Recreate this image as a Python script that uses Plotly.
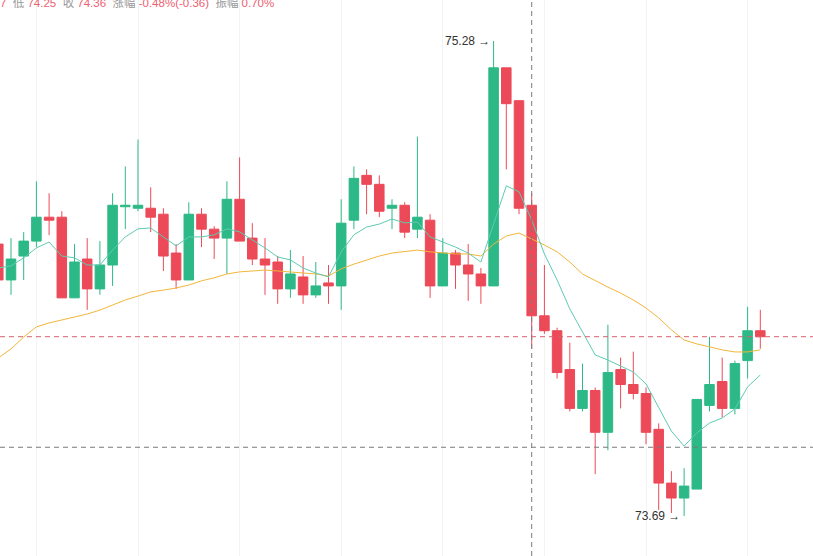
import plotly.graph_objects as go

# candle index (k = -1 is the partially visible first candle)
idx = list(range(-1, 60))

opens = [74.60, 74.48, 74.56, 74.61, 74.69, 74.69, 74.42, 74.55, 74.45, 74.53,
         74.725, 74.72, 74.72, 74.70, 74.57, 74.48, 74.70, 74.65, 74.62, 74.75,
         74.62, 74.55, 74.54, 74.45, 74.49, 74.43, 74.47, 74.46, 74.68, 74.83,
         74.80, 74.72, 74.73, 74.65, 74.68, 74.46, 74.57, 74.53, 74.50, 74.46,
         75.19, 75.08, 74.73, 74.36, 74.31, 74.18, 74.05, 74.11, 73.97, 74.18,
         74.13, 74.10, 73.98, 73.80, 73.75, 73.78, 74.06, 74.14, 74.05, 74.21,
         74.31]
highs = [74.62, 74.62, 74.64, 74.81, 74.77, 74.71, 74.60, 74.62, 74.61, 74.77,
         74.86, 74.95, 74.79, 74.72, 74.60, 74.74, 74.72, 74.66, 74.81, 74.89,
         74.67, 74.62, 74.56, 74.58, 74.56, 74.54, 74.53, 74.75, 74.86, 74.85,
         74.83, 74.75, 74.74, 74.96, 74.70, 74.62, 74.58, 74.60, 74.52, 75.28,
         75.19, 75.08, 74.77, 74.53, 74.32, 74.27, 74.20, 74.12, 74.33, 74.22,
         74.24, 74.12, 74.00, 73.84, 73.85, 74.08, 74.29, 74.22, 74.21, 74.39,
         74.38]
lows = [74.46, 74.43, 74.48, 74.59, 74.63, 74.42, 74.42, 74.38, 74.43, 74.46,
        74.65, 74.71, 74.64, 74.51, 74.45, 74.48, 74.59, 74.55, 74.50, 74.61,
        74.53, 74.43, 74.40, 74.42, 74.40, 74.42, 74.40, 74.38, 74.65, 74.70,
        74.69, 74.65, 74.62, 74.62, 74.42, 74.46, 74.45, 74.41, 74.40, 74.46,
        74.85, 74.70, 74.25, 74.30, 74.15, 74.04, 74.04, 73.83, 73.91, 74.05,
        74.08, 73.93, 73.71, 73.70, 73.69, 73.78, 74.04, 74.02, 74.03, 74.15,
        74.25]
closes = [74.48, 74.55, 74.61, 74.69, 74.68, 74.42, 74.54, 74.45, 74.53, 74.73,
          74.73, 74.73, 74.69, 74.56, 74.48, 74.70, 74.65, 74.62, 74.75, 74.61,
          74.55, 74.53, 74.45, 74.50, 74.43, 74.46, 74.46, 74.67, 74.82, 74.80,
          74.71, 74.73, 74.64, 74.69, 74.46, 74.57, 74.53, 74.50, 74.46, 75.19,
          75.07, 74.72, 74.36, 74.31, 74.17, 74.05, 74.11, 73.97, 74.17, 74.13,
          74.10, 73.97, 73.80, 73.75, 73.79, 74.08, 74.13, 74.05, 74.20, 74.31,
          74.29]

ma_fast = [74.520, 74.527, 74.554, 74.587, 74.607, 74.560, 74.554, 74.530, 74.530, 74.580,
           74.624, 74.651, 74.654, 74.624, 74.594, 74.624, 74.624, 74.631, 74.651, 74.641,
           74.614, 74.587, 74.557, 74.547, 74.520, 74.503, 74.490, 74.574, 74.631, 74.657,
           74.667, 74.684, 74.671, 74.674, 74.624, 74.607, 74.590, 74.570, 74.540, 74.667,
           74.795, 74.775, 74.681, 74.567, 74.480, 74.383, 74.306, 74.229, 74.212, 74.192,
           74.172, 74.132, 74.055, 73.974, 73.924, 73.968, 74.001, 74.018, 74.048, 74.122,
           74.162]
ma_slow = [74.219, 74.249, 74.289, 74.323, 74.336, 74.346, 74.356, 74.366, 74.379, 74.396,
           74.413, 74.426, 74.440, 74.446, 74.453, 74.463, 74.477, 74.487, 74.500, 74.507,
           74.510, 74.513, 74.510, 74.507, 74.503, 74.500, 74.493, 74.517, 74.533, 74.547,
           74.560, 74.570, 74.574, 74.580, 74.574, 74.570, 74.567, 74.567, 74.560, 74.600,
           74.627, 74.637, 74.617, 74.597, 74.574, 74.540, 74.500, 74.477, 74.456, 74.436,
           74.413, 74.386, 74.353, 74.313, 74.279, 74.266, 74.256, 74.246, 74.239, 74.239,
           74.246]

crosshair_k = 41          # candle under the crosshair
crosshair_price = 73.92   # horizontal crosshair level
grid_ticks = list(range(2, 60, 8))

UP = "#2DB987"
DOWN = "#EC4A58"

fig = go.Figure()
fig.add_trace(go.Candlestick(
    x=idx, open=opens, high=highs, low=lows, close=closes,
    increasing=dict(line=dict(color=UP, width=1), fillcolor=UP),
    decreasing=dict(line=dict(color=DOWN, width=1), fillcolor=DOWN),
    whiskerwidth=0, showlegend=False, hoverinfo="skip",
))
fig.add_trace(go.Scatter(x=idx, y=ma_slow, mode="lines",
                         line=dict(color="#F2B63A", width=1), showlegend=False, hoverinfo="skip"))
fig.add_trace(go.Scatter(x=idx, y=ma_fast, mode="lines",
                         line=dict(color="#5DCBB2", width=1), showlegend=False, hoverinfo="skip"))

# crosshair + last price lines
fig.add_shape(type="line", xref="x", yref="paper", x0=crosshair_k, x1=crosshair_k, y0=0, y1=1,
              line=dict(color="#7a7a7a", width=1, dash="5px,4px"))
fig.add_shape(type="line", xref="paper", yref="y", x0=0, x1=1, y0=crosshair_price, y1=crosshair_price,
              line=dict(color="#7a7a7a", width=1, dash="5px,4px"))
fig.add_shape(type="line", xref="paper", yref="y", x0=0, x1=1, y0=closes[-1], y1=closes[-1],
              line=dict(color="#D9606E", width=1, dash="5px,4px"))

# high / low markers
i_hi = highs.index(max(highs))
i_lo = lows.index(min(lows))
fig.add_annotation(x=idx[i_hi], y=highs[i_hi], text=f"{highs[i_hi]:.2f} →", showarrow=False,
                   xanchor="right", yanchor="middle", xshift=-2,
                   font=dict(family="Arial, Liberation Sans", size=12, color="#333333"))
fig.add_annotation(x=idx[i_lo], y=lows[i_lo], text=f"{lows[i_lo]:.2f} →", showarrow=False,
                   xanchor="right", yanchor="middle", xshift=-2,
                   font=dict(family="Arial, Liberation Sans", size=12, color="#333333"))

# header info for the crosshair candle
j = idx.index(crosshair_k)
o, h, l, c = opens[j], highs[j], lows[j], closes[j]
prev = closes[j - 1]
chg = c - prev
pct = chg / prev * 100
amp = (h - l) / prev * 100
G = "#999999"
R = "#EE6070"
sp = "\u00a0"
def item(lbl, val):
    return f'<span style="color:{G}">{lbl}</span>{sp}<span style="color:{R}">{val}</span>'
header = (sp * 2).join([
    item("开", f"{o:.2f}"), item("高", f"{h:.2f}"), item("低", f"{l:.2f}"),
    item("收", f"{c:.2f}"), item("涨幅", f"{pct:.2f}%({chg:.2f})"), item("振幅", f"{amp:.2f}%"),
])
fig.add_annotation(xref="paper", yref="paper", x=276 / 813, y=1, xanchor="right", yanchor="middle",
                   yshift=-2, text=header, showarrow=False,
                   font=dict(family="Arial, Noto Sans CJK SC", size=11.5, color=G))

fig.update_layout(
    width=813, height=556, margin=dict(l=0, r=0, t=0, b=0),
    paper_bgcolor="white", plot_bgcolor="white",
    boxgap=0.25, boxgroupgap=0,
    xaxis=dict(range=[-0.866, 63.15], rangeslider=dict(visible=False), showticklabels=False,
               ticks="", tickvals=grid_ticks, showgrid=True, gridcolor="#f3f3f3", gridwidth=1,
               zeroline=False, showline=False),
    yaxis=dict(range=[73.556, 75.417], showticklabels=False, ticks="", showgrid=False,
               zeroline=False, showline=False),
    showlegend=False,
)

fig.write_html("out.html")
